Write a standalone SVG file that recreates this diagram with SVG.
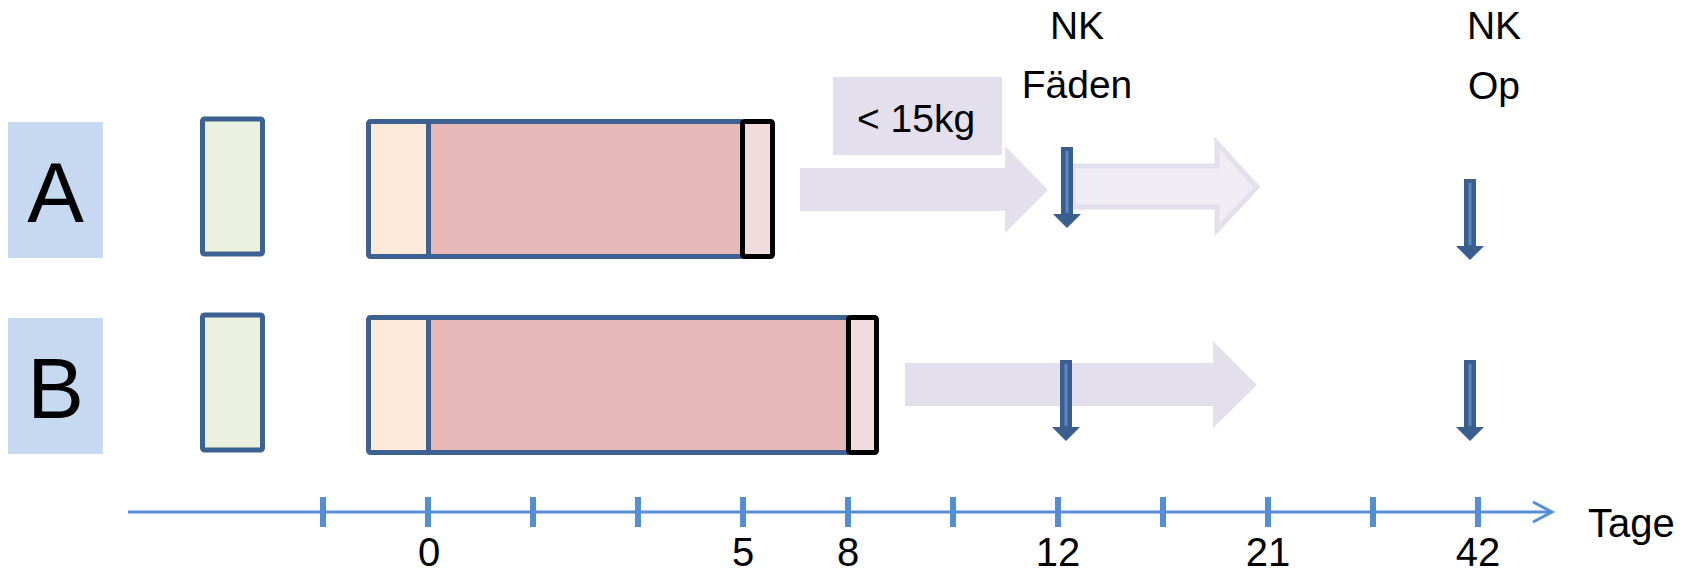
<svg xmlns="http://www.w3.org/2000/svg" width="1694" height="570" viewBox="0 0 1694 570">
<style>
text { font-family: "Liberation Sans", Arial, sans-serif; fill: #000; }
.lbl { fill: #C6D9F1; }
.big { font-size: 85px; text-anchor: middle; }
.t40 { font-size: 39px; text-anchor: middle; }
.num { font-size: 40px; text-anchor: middle; }
.green { fill: #EBF1DE; stroke: #3D6190; stroke-width: 5; }
.frame { fill: none; stroke: #3D6190; stroke-width: 5; }
.peach { fill: #FDEADA; }
.pink { fill: #E6B9B8; }
.endbox { fill: #F2DCDB; stroke: #000; stroke-width: 5; }
.lav { fill: #E4DFEC; }
.lav2 { fill: #EFECF4; stroke: #E4DFEC; stroke-width: 5; }
.axis { stroke: #558ED5; stroke-width: 3; fill: none; }
.tick { stroke: #558ED5; stroke-width: 6; }
</style>
<defs>
<g id="down">
<path d="M-6,0 H6 V67 H14 L0,81 L-14,67 H-6 Z" fill="#3A5F8E"/>
<line x1="0" y1="4" x2="0" y2="66" stroke="#5A87C2" stroke-width="3"/>
</g>
</defs>

<g id="rowA-label">
<rect class="lbl" x="8" y="122" width="95" height="136"/>
<text class="big" x="55.5" y="222">A</text>
</g>
<g id="rowB-label">
<rect class="lbl" x="8" y="318" width="95" height="136"/>
<text class="big" x="55.5" y="418">B</text>
</g>

<g id="rowA-green">
<rect class="green" x="202.5" y="119" width="60" height="135" rx="2"/>
</g>
<g id="rowB-green">
<rect class="green" x="202.5" y="315" width="60" height="135" rx="2"/>
</g>

<g id="rowA-box">
<rect class="peach" x="368.5" y="121.5" width="60" height="135"/>
<rect class="pink" x="428.5" y="121.5" width="314" height="135"/>
<rect class="frame" x="368.5" y="121.5" width="374" height="135" rx="2"/>
<line x1="428.5" y1="121.5" x2="428.5" y2="256.5" stroke="#3D6190" stroke-width="5"/>
<rect class="endbox" x="742.5" y="121.5" width="30" height="135" rx="2"/>
</g>
<g id="rowB-box">
<rect class="peach" x="368.5" y="317.5" width="60" height="135"/>
<rect class="pink" x="428.5" y="317.5" width="420" height="135"/>
<rect class="frame" x="368.5" y="317.5" width="480" height="135" rx="2"/>
<line x1="428.5" y1="317.5" x2="428.5" y2="452.5" stroke="#3D6190" stroke-width="5"/>
<rect class="endbox" x="848.5" y="317.5" width="28" height="135" rx="2"/>
</g>

<g id="weight-label">
<rect class="lav" x="833" y="77" width="169" height="78"/>
<text class="t40" x="916" y="132">&lt; 15kg</text>
</g>

<g id="rowA-arrow1">
<path class="lav" d="M800,168 H1005 V146 L1048,190 L1005,233 V211 H800 Z"/>
</g>
<g id="rowA-arrow2">
<path class="lav2" d="M1073,166 H1217 V143 L1257,187 L1217,230 V207 H1073 Z"/>
</g>
<g id="rowB-arrow">
<path class="lav" d="M905,363 H1213 V341 L1257,385 L1213,428 V406 H905 Z"/>
</g>

<g id="markers">
<use href="#down" x="1067" y="147"/>
<use href="#down" x="1470" y="179"/>
<use href="#down" x="1066" y="360"/>
<use href="#down" x="1470" y="360"/>
</g>

<g id="label-nk-faeden">
<text class="t40" x="1077" y="39">NK</text>
<text class="t40" x="1077" y="98">Fäden</text>
</g>
<g id="label-nk-op">
<text class="t40" x="1494" y="39">NK</text>
<text class="t40" x="1494" y="99">Op</text>
</g>

<g id="axis">
<line class="axis" x1="128" y1="512" x2="1551" y2="512"/>
<polyline class="axis" points="1533,502 1552,512 1533,522"/>
<g class="tick">
<line x1="323" y1="497" x2="323" y2="527"/>
<line x1="428" y1="497" x2="428" y2="527"/>
<line x1="533" y1="497" x2="533" y2="527"/>
<line x1="638" y1="497" x2="638" y2="527"/>
<line x1="743" y1="497" x2="743" y2="527"/>
<line x1="848" y1="497" x2="848" y2="527"/>
<line x1="953" y1="497" x2="953" y2="527"/>
<line x1="1058" y1="497" x2="1058" y2="527"/>
<line x1="1163" y1="497" x2="1163" y2="527"/>
<line x1="1268" y1="497" x2="1268" y2="527"/>
<line x1="1373" y1="497" x2="1373" y2="527"/>
<line x1="1478" y1="497" x2="1478" y2="527"/>
</g>
<text class="num" x="429" y="566">0</text>
<text class="num" x="743" y="566">5</text>
<text class="num" x="848" y="566">8</text>
<text class="num" x="1058" y="566">12</text>
<text class="num" x="1268" y="566">21</text>
<text class="num" x="1478" y="566">42</text>
<text x="1588" y="537" style="font-size:40px">Tage</text>
</g>
</svg>
